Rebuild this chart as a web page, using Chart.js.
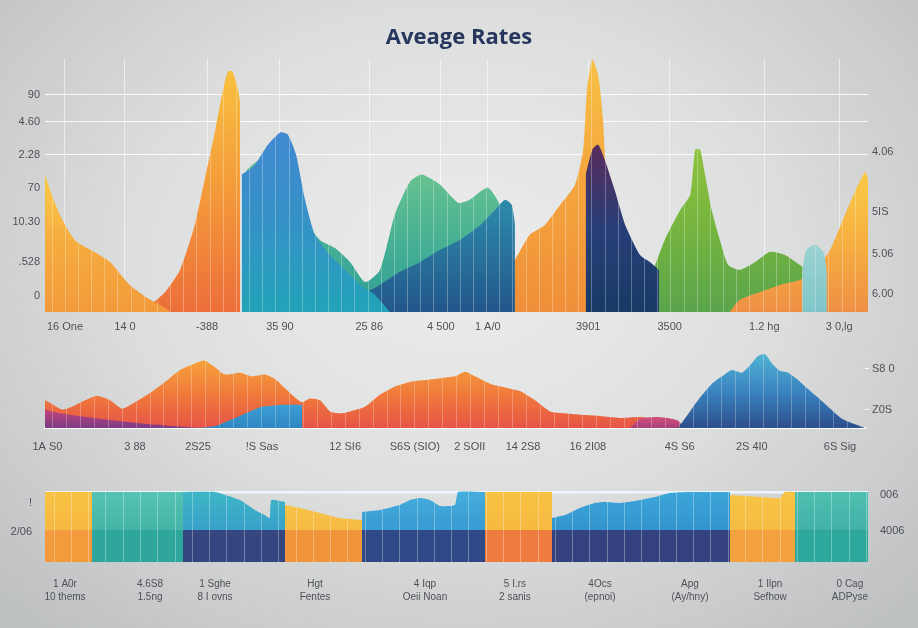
<!DOCTYPE html>
<html>
<head>
<meta charset="utf-8">
<script src="https://cdn.jsdelivr.net/npm/chart.js@4.4.1/dist/chart.umd.min.js"></script>
<style>
  html, body { margin: 0; padding: 0; }
  body {
    width: 918px; height: 628px; overflow: hidden; position: relative;
    background: radial-gradient(ellipse 70% 78% at 50% 42%, #ededed 0%, #dddede 50%, #bdc0c1 100%);
  }
  canvas { position: absolute; left: 0; }
  #topChart { top: 0; }
  #midChart { top: 340px; }
  #botChart { top: 455px; }
</style>
</head>
<body>
<canvas id="topChart" width="918" height="340"></canvas>
<canvas id="midChart" width="918" height="115"></canvas>
<canvas id="botChart" width="918" height="173"></canvas>
<script>
// ---- top panel: labels ----
const topTickPos = [2.43, 9.72, 19.7, 28.55, 39.4, 48.1, 53.8, 66.0, 75.9, 87.4, 96.5];
const topTickLabels = ['16 One', '14 0', '-388', '35 90', '25 86', '4 500', '1 A/0', '3901', '3500', '1.2 hg', '3 0,lg'];
const topLeftPos = [98.6, 86.4, 71.4, 56.4, 40.9, 22.7, 7.3];
const topLeftLabels = ['90', '4.60', '2.28', '70', '10.30', '.528', '0'];
const topRightPos = [72.7, 45.5, 26.4, 8.2];
const topRightLabels = ['4.06', '5IS', '5.06', '6.00'];

// ---- top panel: series [x, y] ----
const topYellowLeft = [[0, 62.3], [0.6, 55.5], [1.8, 44.1], [3.6, 32.7], [5.5, 28.2], [7.9, 22.7], [10.3, 12.3], [12.8, 5.5], [14.6, 1.8], [15.2, 0]];
const topOrangePeak = [[12.8, 3.2], [14.6, 9.1], [16.4, 19.1], [18.2, 39.5], [19.4, 60], [20.7, 82.7], [21.5, 98.6], [22.2, 109], [22.8, 109], [23.45, 101], [23.7, 95]];
const topBlue = [[23.9, 62.3], [25.5, 66.8], [27.1, 75.9], [28.6, 81.4], [29.5, 80.5], [30.5, 71.4], [31.6, 50.9], [32.8, 35], [34.6, 25.9], [36.5, 19.1], [38.3, 12.3], [40.1, 7.7], [41.9, 0]];
const topGreen = [[24.5, 64.5], [25.88, 68.2], [27.34, 50.9], [30.98, 43.6], [33.4, 32.7], [35.2, 29.1], [37.06, 22.7], [38.9, 13.6], [40.7, 19.1], [42.5, 44.1], [44.35, 59.1], [45.8, 62.3], [48, 57.7], [50.2, 49.5], [51.6, 50.9], [53.8, 56.4], [55.3, 48.6], [56.5, 35], [56.9, 20]];
const topTeal = [[35.8, 5.5], [38.3, 7.7], [40.7, 12.3], [43.1, 18.2], [45.6, 22.7], [48, 28.2], [50.4, 32.7], [52.9, 39.5], [54.7, 46.4], [55.9, 50.9], [56.7, 48.6], [57.1, 40]];
const topOrangeMid = [[51.6, 0], [53.5, 5.5], [55.3, 14.5], [57.1, 23.6], [58.9, 35], [60.75, 39.5], [62.6, 48.6], [64.4, 57.7], [65.4, 73.6], [65.86, 100.9], [66.5, 114.5], [67.2, 107.7], [67.8, 87.3], [68.4, 40]];
const topNavy = [[65.7, 62.3], [66.5, 73.6], [67.2, 75.9], [68.0, 69.1], [69.2, 55.5], [70.5, 39.5], [72.3, 25.9], [73.5, 22.7], [74.6, 19.1]];
const topGreenRight = [[72.3, 0], [73.5, 14.5], [75.3, 32.7], [77.2, 46.4], [78.4, 53.2], [79, 73.6], [79.6, 73.6], [80.2, 62.3], [81, 46.4], [82, 32.7], [83, 21.4], [84.4, 19.1], [86.3, 22.7], [88.1, 27.3], [89.9, 25.9], [91.7, 21.4], [93, 16.8], [93.6, 0]];
const topTealSliver = [[92.0, 18], [92.5, 28], [93.6, 30.5], [94.6, 27], [95.0, 18]];
const topYellowRight = [[83.2, 0], [84.4, 5.5], [86.9, 9.1], [89.3, 12.3], [91.7, 14.5], [93.6, 19.1], [95.4, 28.2], [97.2, 44.1], [98.8, 57.7], [99.7, 63.6], [100, 60]];

// ---- middle panel ----
const midTickPos = [0.3, 10.98, 18.66, 26.46, 36.6, 45.1, 51.8, 58.3, 66.2, 77.4, 86.2, 96.95];
const midTickLabels = ['1A S0', '3 88', '2S25', '!S Sas', '12 SI6', 'S6S (SIO)', '2 SOII', '14 2S8', '16 2I08', '4S S6', '2S 4I0', '6S Sig'];
const midRightPos = [75.3, 23.5];
const midRightLabels = ['S8 0', 'Z0S'];
const midOrange = [[0, 35.3], [0.85, 30.6], [2.07, 23.5], [3.29, 27.1], [4.88, 35.3], [6.34, 41.2], [7.93, 35.3], [9.39, 24.7], [10.98, 32.9], [12.8, 44.7], [14.63, 58.8], [16.46, 74.1], [18.29, 82.4], [19.51, 85.9], [20.73, 77.6], [21.95, 68.2], [23.78, 70.6], [25.24, 65.9], [26.83, 68.2], [28.05, 62.4], [29.27, 50.6], [30.49, 38.8], [31.34, 32.9], [32.32, 37.6], [33.54, 35.3], [34.76, 21.2], [35.98, 18.8], [37.2, 21.2], [39.02, 27.1], [40.85, 42.4], [42.68, 52.9], [44.51, 58.8], [46.34, 61.2], [48.17, 63.5], [50, 65.9], [51.22, 71.8], [52.44, 65.9], [54.27, 56.5], [56.1, 51.8], [57.93, 47.1], [59.76, 35.3], [61.59, 21.2], [63.41, 18.8], [65.85, 16.5], [67.68, 15.3], [70.12, 12.9], [72.56, 14.1], [74.39, 11.8], [75.98, 4.7], [77.44, 0]];
const midPurple = [[0, 23.5], [1.83, 18.8], [6.7, 11.8], [12.8, 4.7], [18.9, 0]];
const midBlueBlock = [[18.9, 0], [20.73, 2.4], [23.17, 12.9], [25, 21.2], [26.46, 27.1], [28.66, 29.4], [31.34, 29.4]];
const midPink = [[71.34, 0], [72.56, 11.8], [74.39, 14.1], [75.98, 12.9], [77.2, 9.4], [78.05, 0]];
const midBlueRight = [[77.2, 0], [78.66, 21.2], [79.88, 38.8], [81.34, 56.5], [82.56, 65.9], [83.78, 74.1], [85, 70.6], [85.98, 80], [86.95, 91.8], [87.8, 94.1], [88.66, 82.4], [89.63, 72.9], [90.61, 70.6], [91.71, 62.4], [92.93, 50.6], [94.27, 38.8], [95.49, 27.1], [97.2, 11.8], [98.78, 4.7], [100, 0]];

// ---- bottom panel ----
const botTickPos = [2.43, 12.76, 20.66, 32.8, 46.17, 57.1, 67.44, 78.37, 88.1, 97.8];
const botTickLabels = [['1 A0r', '10 thems'], ['4.6S8', '1.5ng'], ['1 Sghe', '8 I ovns'], ['Hgt', 'Fentes'], ['4 Iqp', 'Oeii Noan'],
  ['5 I.rs', '2 sanis'], ['4Ocs', '(epnoi)'], ['Apg', '(Ay/hny)'], ['1 Ilpn', 'Sefhow'], ['0 Cag', 'ADPyse']];
const botLeftPos = [73.75, 37.5];
const botLeftLabels = ['!', '2/06'];
const botRightPos = [83.75, 38.75];
const botRightLabels = ['006', '4006'];
const botLines = [87.5, 40];
const blockEdges = [0, 5.71, 16.77, 29.16, 38.52, 53.46, 61.6, 83.23, 91.13, 100];
const bandTop = 40;
const blockUpper = [
  [[0, 87.5], [5.71, 87.5]],
  [[5.71, 87.5], [16.77, 87.5]],
  [[16.77, 87.5], [20.66, 87.5], [21.9, 83.75], [23.7, 77.5], [25.5, 65], [26.7, 58.75], [27.3, 55], [27.5, 77.5], [29.16, 75]],
  [[29.16, 71.25], [31, 67.5], [33.4, 61.25], [35.8, 55], [38.52, 52.5]],
  [[38.52, 62.5], [40.7, 65], [43.1, 71.25], [44.35, 77.5], [45.6, 80], [46.8, 77.5], [48, 70], [49.8, 71.25], [50.2, 87.5], [53.46, 87.5]],
  [[53.46, 87.5], [61.6, 87.5]],
  [[61.6, 55], [63.2, 58.75], [65, 67.5], [66.8, 73.75], [68.0, 75], [69.9, 73.75], [72.3, 77.5], [74.1, 81.25], [75.9, 86.25], [78.4, 87.5], [83.23, 87.5]],
  [[83.23, 83.75], [86.9, 81.25], [89.3, 80], [89.9, 87.5], [91.13, 87.5]],
  [[91.13, 87.5], [100, 87.5]]
];
const upperColors = [['#f8c244', '#f6b03e'], ['#55c3b4', '#36a99c'], ['#3fb6c6', '#2f8fcc'], ['#f7c447', '#f4ac3d'], ['#45addb', '#2e8ccc'],
  ['#f8c244', '#f5b23e'], ['#3ba6d8', '#2c86c8'], ['#f8c446', '#f5b540'], ['#4fbfb2', '#34a79a']];
const lowerColors = ['#f39a3c', '#2fa69c', '#34457f', '#f1953d', '#2f4886', '#ee7c3f', '#33427f', '#f3a03f', '#2ea89c'];

// gradient from the top of a shape down to the baseline
function vgrad(colors) {
  return (c) => {
    const chart = c.chart;
    const a = chart.chartArea;
    if (!a || !chart.scales.y) return colors[colors.length - 1];
    const maxY = Math.max(...c.dataset.data.map(p => p.y));
    const top = chart.scales.y.getPixelForValue(maxY);
    const g = chart.ctx.createLinearGradient(0, top, 0, a.bottom);
    colors.forEach((col, i) => g.addColorStop(i / (colors.length - 1), col));
    return g;
  };
}

function area(points, colors, tension) {
  return {
    data: points.map(([x, y]) => ({x, y})),
    fill: 'origin',
    borderWidth: 0,
    borderColor: 'rgba(0,0,0,0)',
    pointRadius: 0,
    tension: tension === undefined ? 0.2 : tension,
    backgroundColor: vgrad(colors)
  };
}

function fixed(pos, labels) {
  return {
    afterBuildTicks: s => { s.ticks = pos.map(v => ({value: v})); },
    cb: (v, i) => labels[i]
  };
}

// thin white lines painted only over the filled shapes
const stripes = {
  id: 'stripes',
  afterDatasetsDraw(chart, args, opts) {
    const {ctx, chartArea: a} = chart;
    const x = chart.scales.x;
    ctx.save();
    ctx.globalCompositeOperation = 'source-atop';
    ctx.strokeStyle = opts.color;
    ctx.lineWidth = 1;
    for (let v = x.min + opts.step / 2; v < x.max; v += opts.step) {
      const px = Math.round(x.getPixelForValue(v)) + 0.5;
      ctx.beginPath();
      ctx.moveTo(px, a.top);
      ctx.lineTo(px, a.bottom);
      ctx.stroke();
    }
    ctx.restore();
  }
};

const tickFont = {family: 'Liberation Sans', size: 11};
const tickColor = '#4d5257';
Chart.defaults.animation = false;

// ---------- top chart ----------
const tX = fixed(topTickPos, topTickLabels);
const tL = fixed(topLeftPos, topLeftLabels);
const tR = fixed(topRightPos, topRightLabels);
new Chart(document.getElementById('topChart'), {
  type: 'line',
  data: {
    datasets: [
      area(topNavy, ['#5a2c5c', '#283f78', '#173a66']),
      area(topBlue, ['#4289d2', '#3592c6', '#22a3b8']),
      area(topTeal, ['#2d8bab', '#22578a']),
      area(topOrangeMid, ['#f7c045', '#f4a53d', '#f08f3a']),
      area(topGreen, ['#6cc48e', '#49b294', '#2f9d96']),
      area(topTealSliver, ['#9bd3d3', '#7fc5c8']),
      area(topYellowRight, ['#f9ca48', '#f6b040', '#ee8f44']),
      area(topGreenRight, ['#8fc23e', '#74b43f', '#5aa44c']),
      area(topYellowLeft, ['#f9cb4a', '#f6ac3e', '#f29a3b']),
      area(topOrangePeak, ['#f8c03f', '#f49a3a', '#ec6e3a'])
    ]
  },
  plugins: [stripes],
  options: {
    responsive: false,
    layout: {autoPadding: false, padding: 0},
    plugins: {
      legend: {display: false},
      tooltip: {enabled: false},
      title: {
        display: true, text: 'Aveage Rates', color: '#27365c',
        font: {family: 'Open Sans', size: 22, weight: 'bold'},
        padding: {top: 25, bottom: 7}
      },
      stripes: {step: 1.6, color: 'rgba(255,255,255,0.28)'}
    },
    scales: {
      x: {
        type: 'linear', min: 0, max: 100,
        afterBuildTicks: tX.afterBuildTicks,
        afterFit: s => { s.height = 28; },
        ticks: {callback: tX.cb, autoSkip: false, maxRotation: 0, color: tickColor, font: tickFont, padding: 8},
        grid: {color: 'rgba(255,255,255,0.55)', drawTicks: false},
        border: {display: false}
      },
      y: {
        type: 'linear', min: 0, max: 115, position: 'left',
        afterBuildTicks: tL.afterBuildTicks,
        afterFit: s => { s.width = 45; },
        ticks: {callback: tL.cb, color: tickColor, font: tickFont, padding: 5},
        grid: {
          color: c => c.index < 3 ? 'rgba(255,255,255,0.85)' : 'rgba(255,255,255,0)',
          drawTicks: false
        },
        border: {display: false}
      },
      yr: {
        type: 'linear', min: 0, max: 115, position: 'right',
        afterBuildTicks: tR.afterBuildTicks,
        afterFit: s => { s.width = 50; },
        ticks: {callback: tR.cb, color: tickColor, font: tickFont, padding: 4},
        grid: {drawOnChartArea: false, drawTicks: false},
        border: {display: false}
      }
    }
  }
});

// ---------- middle chart ----------
const mX = fixed(midTickPos, midTickLabels);
const mR = fixed(midRightPos, midRightLabels);
new Chart(document.getElementById('midChart'), {
  type: 'line',
  data: {
    datasets: [
      area(midBlueRight, ['#4fb3d4', '#3a84c0', '#2c4f8c']),
      area(midPink, ['#d2507a', '#a8407c']),
      area(midBlueBlock, ['#3c9fd4', '#2f86c2']),
      area(midPurple, ['#c04679', '#7d3a86']),
      area(midOrange, ['#f6a13c', '#f07a3b', '#e65446'])
    ]
  },
  plugins: [stripes],
  options: {
    responsive: false,
    layout: {autoPadding: false, padding: {top: 3}},
    plugins: {
      legend: {display: false},
      tooltip: {enabled: false},
      stripes: {step: 1.7, color: 'rgba(255,255,255,0.25)'}
    },
    scales: {
      x: {
        type: 'linear', min: 0, max: 100,
        afterBuildTicks: mX.afterBuildTicks,
        afterFit: s => { s.height = 27; },
        ticks: {callback: mX.cb, autoSkip: false, maxRotation: 0, color: tickColor, font: tickFont, padding: 4},
        grid: {display: false},
        border: {display: true, color: '#ffffff', width: 2}
      },
      y: {
        type: 'linear', min: 0, max: 100, position: 'left',
        afterFit: s => { s.width = 45; },
        ticks: {display: false},
        grid: {display: false},
        border: {display: false}
      },
      yr: {
        type: 'linear', min: 0, max: 100, position: 'right',
        afterBuildTicks: mR.afterBuildTicks,
        afterFit: s => { s.width = 53; },
        ticks: {callback: mR.cb, color: tickColor, font: tickFont, padding: 3},
        grid: {drawOnChartArea: false, drawTicks: true, tickLength: 4, color: '#ffffff'},
        border: {display: false}
      }
    }
  }
});

// ---------- bottom chart ----------
const bX = fixed(botTickPos, botTickLabels);
const bL = fixed(botLeftPos, botLeftLabels);
const bR = fixed(botRightPos, botRightLabels);
const lowerSets = lowerColors.map((col, i) =>
  area([[blockEdges[i], bandTop], [blockEdges[i + 1], bandTop]], [col, col], 0));
const upperSets = blockUpper.map((pts, i) => area(pts, upperColors[i], 0.15));
new Chart(document.getElementById('botChart'), {
  type: 'line',
  data: {datasets: lowerSets.concat(upperSets)},
  plugins: [stripes],
  options: {
    responsive: false,
    layout: {autoPadding: false, padding: {top: 19}},
    plugins: {
      legend: {display: false},
      tooltip: {enabled: false},
      stripes: {step: 2.1, color: 'rgba(255,255,255,0.3)'}
    },
    scales: {
      x: {
        type: 'linear', min: 0, max: 100,
        afterBuildTicks: bX.afterBuildTicks,
        afterFit: s => { s.height = 66; },
        ticks: {callback: bX.cb, autoSkip: false, maxRotation: 0, color: tickColor,
          font: {family: 'Liberation Sans', size: 10, lineHeight: 1.3}, padding: 8},
        grid: {display: false},
        border: {display: false}
      },
      y: {
        type: 'linear', min: 0, max: 110, position: 'left',
        afterBuildTicks: bL.afterBuildTicks,
        afterFit: s => { s.width = 45; },
        ticks: {callback: bL.cb, color: tickColor, font: tickFont, padding: 5},
        grid: {display: false},
        border: {display: false}
      },
      yg: {
        type: 'linear', min: 0, max: 110, position: 'left', z: 1,
        afterBuildTicks: s => { s.ticks = botLines.map(v => ({value: v})); },
        afterFit: s => { s.width = 0; },
        ticks: {display: false},
        grid: {color: 'rgba(238,246,255,0.95)', lineWidth: 2.5, drawTicks: false},
        border: {display: false}
      },
      yr: {
        type: 'linear', min: 0, max: 110, position: 'right',
        afterBuildTicks: bR.afterBuildTicks,
        afterFit: s => { s.width = 50; },
        ticks: {callback: bR.cb, color: tickColor, font: tickFont, padding: 4},
        grid: {display: false},
        border: {display: false}
      }
    }
  }
});
</script>
</body>
</html>
